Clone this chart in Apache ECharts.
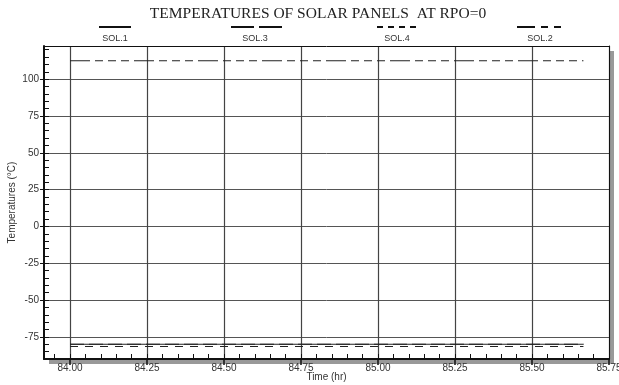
<!DOCTYPE html>
<html><head><meta charset="utf-8">
<script src="https://cdn.jsdelivr.net/npm/echarts@6/dist/echarts.min.js"></script>
<style>html,body{margin:0;padding:0;background:#fff}#c{width:619px;height:385px}</style>
</head><body><div id="c"></div>
<script>
const seriesNames = ['SOL.1', 'SOL.3', 'SOL.4', 'SOL.2'];
const time = [84.0, 85.667];
const sol1 = [-80, -80];
const sol3 = [-80, -80];
const sol4 = [-81.5, -81.5];
const sol2 = [112.5, 112.5];
const xMajorTicks = [84.00, 84.25, 84.50, 84.75, 85.00, 85.25, 85.50, 85.75];
const yMajorTicks = [-75, -50, -25, 0, 25, 50, 75, 100];
const xMinorTicks = [];
for (let i = 0; i <= 35; i++) xMinorTicks.push(+(83.95 + i * 0.05).toFixed(2));
const yMinorTicks = [];
for (let v = -85; v <= 120; v += 5) yMinorTicks.push(v);

const X_MIN = 83.9156, X_MAX = 85.75, Y_MIN = -90, Y_MAX = 122.5;
const dashStyles = {
  'SOL.1': 'solid',
  'SOL.3': [14, 5],
  'SOL.4': [8, 7],
  'SOL.2': [20, 5, 8, 5, 8, 5, 8, 5]
};
const legendDash = {
  'SOL.1': 'solid',
  'SOL.3': [23, 5],
  'SOL.4': [6, 5],
  'SOL.2': [18, 6, 7, 6]
};
const legendPos = {'SOL.1': [98, 32, 115], 'SOL.3': [230, 51, 255], 'SOL.4': [376, 40, 397], 'SOL.2': [516, 44, 540]};
const values = {'SOL.1': sol1, 'SOL.3': sol3, 'SOL.4': sol4, 'SOL.2': sol2};
const lineColor = '#222';
const font = '"Liberation Sans", Arial, sans-serif';
const clear = 'rgba(0,0,0,0)';

const chart = echarts.init(document.getElementById('c'), null, {renderer: 'canvas'});
const drawOrder = ['SOL.3', 'SOL.1', 'SOL.4', 'SOL.2'];
const series = drawOrder.map(n => ({
  name: n, type: 'line', xAxisIndex: 0, yAxisIndex: 0,
  data: time.map((t, i) => [t, values[n][i]]),
  symbol: 'none', silent: true, animation: false,
  lineStyle: {color: lineColor, width: 1.2, type: dashStyles[n]},
  itemStyle: {color: lineColor}
}));
const legends = seriesNames.map(n => ({
  data: [n], left: legendPos[n][0], top: 22, padding: 0,
  itemWidth: legendPos[n][1], itemHeight: 10, selectedMode: false,
  formatter: () => '',
  itemStyle: {color: clear, borderColor: clear, borderWidth: 0, opacity: 0},
  lineStyle: {color: '#111', width: 2, type: legendDash[n], inactiveColor: '#111'}
}));
const graphics = seriesNames.map(n => ({
  type: 'text', x: legendPos[n][2], y: 34, silent: true,
  style: {text: n, font: '9px ' + font, fill: '#333', textAlign: 'center'}
}));

chart.setOption({
  animation: false,
  backgroundColor: '#fff',
  title: {
    text: 'TEMPERATURES OF SOLAR PANELS  AT RPO=0',
    left: 318, top: 6, textAlign: 'center', padding: 0,
    textStyle: {fontFamily: '"Liberation Serif", "Times New Roman", serif', fontWeight: 'normal', fontSize: 15.5, color: '#222'}
  },
  legend: legends,
  graphic: graphics,
  grid: {
    left: 44, right: 10, top: 46, bottom: 26, show: true,
    outerBoundsMode: 'none', containLabel: false,
    backgroundColor: '#fff', borderColor: clear, borderWidth: 0,
    shadowColor: '#999', shadowBlur: 0, shadowOffsetX: 5, shadowOffsetY: 5
  },
  xAxis: [{
    type: 'value', min: X_MIN, max: X_MAX, position: 'bottom',
    name: 'Time (hr)', nameLocation: 'middle', nameGap: 13, nameMoveOverlap: false,
    nameTextStyle: {fontFamily: font, fontSize: 10, color: '#333'},
    axisLine: {show: true, onZero: false, lineStyle: {color: '#111', width: 2}},
    axisTick: {show: true, inside: false, length: 6, customValues: xMajorTicks, lineStyle: {color: '#111', width: 1.5}},
    axisLabel: {show: true, customValues: xMajorTicks, margin: 4, fontFamily: font, fontSize: 10, color: '#333',
      hideOverlap: false, formatter: v => v.toFixed(2)},
    splitLine: {show: true, lineStyle: {color: '#444', width: 1.2}}
  }, {
    type: 'value', min: X_MIN, max: X_MAX, position: 'bottom',
    axisLine: {show: false, onZero: false},
    axisTick: {show: true, inside: true, length: 5, customValues: xMinorTicks, lineStyle: {color: '#111', width: 1}},
    axisLabel: {show: false}, splitLine: {show: false}
  }, {
    type: 'value', min: X_MIN, max: X_MAX, position: 'top',
    axisLine: {show: true, onZero: false, lineStyle: {color: '#111', width: 1}},
    axisTick: {show: false}, axisLabel: {show: false}, splitLine: {show: false}
  }],
  yAxis: [{
    type: 'value', min: Y_MIN, max: Y_MAX, position: 'left',
    name: 'Temperatures (\u00B0C)', nameLocation: 'middle', nameGap: 27, nameRotate: 90, nameMoveOverlap: false,
    nameTextStyle: {fontFamily: font, fontSize: 10, color: '#333'},
    axisLine: {show: true, onZero: false, lineStyle: {color: '#111', width: 2}},
    axisTick: {show: true, inside: false, length: 4, customValues: yMajorTicks, lineStyle: {color: '#111', width: 1}},
    axisLabel: {show: true, customValues: yMajorTicks, margin: 5, fontFamily: font, fontSize: 10, color: '#333'},
    splitLine: {show: true, lineStyle: {color: '#555', width: 1}}
  }, {
    type: 'value', min: Y_MIN, max: Y_MAX, position: 'left',
    axisLine: {show: false, onZero: false},
    axisTick: {show: true, inside: true, length: 5, customValues: yMinorTicks, lineStyle: {color: '#111', width: 1}},
    axisLabel: {show: false}, splitLine: {show: false}
  }, {
    type: 'value', min: Y_MIN, max: Y_MAX, position: 'right',
    axisLine: {show: true, onZero: false, lineStyle: {color: '#111', width: 1}},
    axisTick: {show: false}, axisLabel: {show: false}, splitLine: {show: false}
  }],
  series: series
});
</script></body></html>
